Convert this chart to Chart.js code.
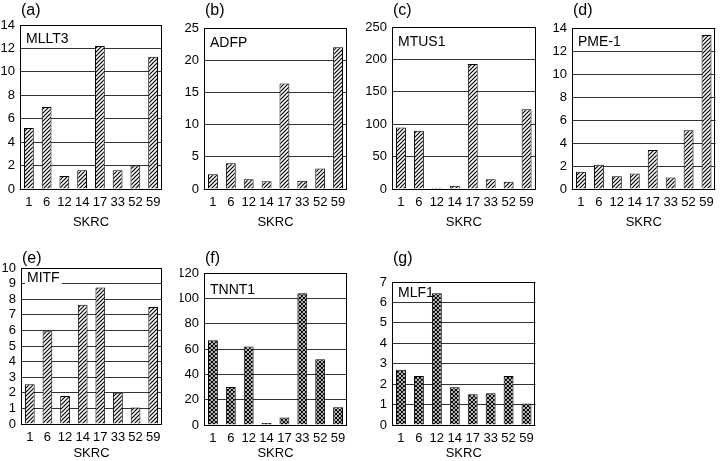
<!DOCTYPE html>
<html>
<head>
<meta charset="utf-8">
<script src="https://cdn.jsdelivr.net/npm/chart.js@4/dist/chart.umd.min.js"></script>
<style>
html, body { margin: 0; padding: 0; background: #fff; }
#wrap { position: relative; width: 720px; height: 461px; overflow: hidden; }
.panel { position: absolute; }
</style>
</head>
<body>
<div id="wrap"></div>
<script>
// data
const skrc = ["1", "6", "12", "14", "17", "33", "52", "59"];
const mllt3 = [5.2, 7.0, 1.1, 1.6, 12.2, 1.6, 2.0, 11.3];
const adfp = [2.3, 4.0, 1.5, 1.2, 16.4, 1.3, 3.2, 22.0];
const mtus1 = [95, 90, 2, 5, 193, 15, 11, 123];
const pme1 = [1.5, 2.1, 1.1, 1.35, 3.4, 1.0, 5.1, 13.4];
const mitf = [2.55, 5.95, 1.8, 7.65, 8.75, 2.0, 1.05, 7.5];
const tnnt1 = [67, 30, 62, 1.5, 6, 104, 52, 14];
const mlf1 = [2.7, 2.4, 6.45, 1.85, 1.5, 1.55, 2.4, 1.05];

const FONT = "'Liberation Sans', Arial, Helvetica, sans-serif";

// hatch fills
function makePattern(kind) {
    const s = 4;
    const tile = document.createElement('canvas');
    tile.width = s; tile.height = s;
    const t = tile.getContext('2d');
    t.fillStyle = '#fff';
    t.fillRect(0, 0, s, s);
    t.strokeStyle = '#000';
    t.lineWidth = 1.2;
    t.beginPath();
    t.moveTo(-1, s + 1); t.lineTo(s + 1, -1);
    t.moveTo(-1, 1); t.lineTo(1, -1);
    t.moveTo(s - 1, s + 1); t.lineTo(s + 1, s - 1);
    if (kind === 'cross') {
        t.moveTo(-1, -1); t.lineTo(s + 1, s + 1);
        t.moveTo(s - 1, -1); t.lineTo(s + 1, 1);
        t.moveTo(-1, s - 1); t.lineTo(1, s + 1);
    }
    t.stroke();
    return t.createPattern(tile, 'repeat');
}

const panels = [
    { id: 'a', letter: '(a)', gene: 'MLLT3', values: mllt3, max: 14, step: 2, hatch: 'diag', x: 0, y: 0, w: 180, h: 230, yw: 20, pt: 25, pr: 18, xh: 41, ly: 11, gy: 14 },
    { id: 'b', letter: '(b)', gene: 'ADFP', values: adfp, max: 25, step: 5, hatch: 'diag', x: 180, y: 0, w: 180, h: 230, yw: 24, pt: 28, pr: 13, xh: 41, ly: 11, gy: 15 },
    { id: 'c', letter: '(c)', gene: 'MTUS1', values: mtus1, max: 250, step: 50, hatch: 'diag', x: 360, y: 0, w: 180, h: 230, yw: 32, pt: 27, pr: 3, xh: 41, ly: 11, gy: 15 },
    { id: 'd', letter: '(d)', gene: 'PME-1', values: pme1, max: 14, step: 2, hatch: 'diag', x: 540, y: 0, w: 180, h: 230, yw: 32, pt: 28, pr: 4, xh: 41, ly: 11, gy: 14 },
    { id: 'e', letter: '(e)', gene: 'MITF', values: mitf, max: 10, step: 1, hatch: 'diag', x: 0, y: 230, w: 180, h: 231, yw: 21, pt: 38, pr: 18, xh: 37, ly: 29, gy: 10 },
    { id: 'f', letter: '(f)', gene: 'TNNT1', values: tnnt1, max: 120, step: 20, hatch: 'cross', x: 180, y: 230, w: 180, h: 231, yw: 24, pt: 43, pr: 13, xh: 36, ly: 29, gy: 17 },
    { id: 'g', letter: '(g)', gene: 'MLF1', values: mlf1, max: 7, step: 1, hatch: 'cross', x: 360, y: 230, w: 180, h: 231, yw: 32, pt: 52, pr: 4, xh: 36, ly: 29, gy: 11 }
];

// panel letter, gene label and frame
const panelText = {
    id: 'panelText',
    beforeDatasetsDraw(chart) {
        const p = chart.options.plugins.panelText;
        const ctx = chart.ctx, a = chart.chartArea;
        ctx.save();
        ctx.font = '14px ' + FONT;
        const tw = ctx.measureText(p.gene).width;
        ctx.fillStyle = '#fff';
        ctx.fillRect(a.left + 4, a.top + p.gy - 7, tw + 4, 14);
        ctx.fillStyle = '#000';
        ctx.textBaseline = 'middle';
        ctx.fillText(p.gene, a.left + 6, a.top + p.gy);
        ctx.restore();
    },
    afterDraw(chart) {
        const p = chart.options.plugins.panelText;
        const ctx = chart.ctx, a = chart.chartArea;
        ctx.save();
        ctx.strokeStyle = '#000';
        ctx.lineWidth = 1;
        ctx.strokeRect(Math.round(a.left) + 0.5, Math.round(a.top) + 0.5,
            Math.round(a.right - a.left) - 1, Math.round(a.bottom - a.top));
        ctx.font = '16px ' + FONT;
        ctx.fillStyle = '#000';
        ctx.textBaseline = 'middle';
        ctx.fillText(p.letter, a.left + 1, p.ly);
        ctx.restore();
    }
};

const wrap = document.getElementById('wrap');
panels.forEach(function (p) {
    const div = document.createElement('div');
    div.className = 'panel';
    div.style.left = p.x + 'px';
    div.style.top = p.y + 'px';
    div.style.width = p.w + 'px';
    div.style.height = p.h + 'px';
    const cv = document.createElement('canvas');
    div.appendChild(cv);
    wrap.appendChild(div);

    new Chart(cv.getContext('2d'), {
        type: 'bar',
        data: {
            labels: skrc,
            datasets: [{
                data: p.values,
                backgroundColor: makePattern(p.hatch),
                borderColor: '#000',
                borderWidth: 1,
                barPercentage: 0.6,
                categoryPercentage: 0.92
            }]
        },
        options: {
            responsive: true,
            maintainAspectRatio: false,
            animation: false,
            layout: { padding: { top: p.pt, right: p.pr, left: 0, bottom: 0 } },
            plugins: {
                legend: { display: false },
                tooltip: { enabled: false },
                panelText: { letter: p.letter, gene: p.gene, gy: p.gy, ly: p.ly }
            },
            scales: {
                x: {
                    grid: { display: false, drawTicks: false },
                    border: { display: false },
                    ticks: { color: '#000', font: { family: FONT, size: 13 }, padding: 6, maxRotation: 0, autoSkip: false },
                    title: { display: true, text: 'SKRC', color: '#000', font: { family: FONT, size: 13 }, padding: { top: 1, bottom: 0 } },
                    afterFit: function (scale) { scale.height = p.xh; }
                },
                y: {
                    min: 0,
                    max: p.max,
                    grid: { color: '#333', lineWidth: 1, drawTicks: false },
                    border: { display: false },
                    ticks: { stepSize: p.step, autoSkip: false, color: '#000', font: { family: FONT, size: 13 }, padding: 5 },
                    afterFit: function (scale) { scale.width = p.yw; }
                }
            }
        },
        plugins: [panelText]
    });
});
</script>
</body>
</html>
